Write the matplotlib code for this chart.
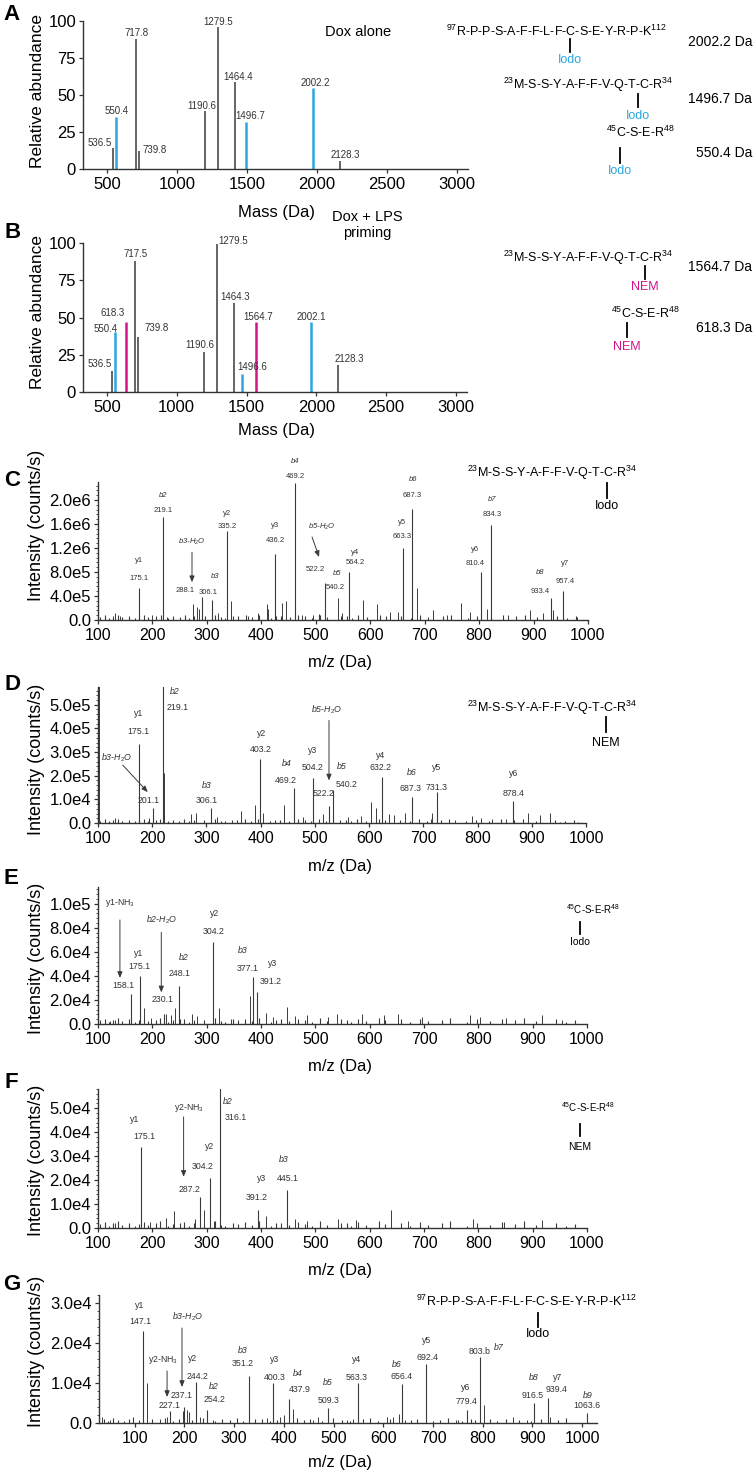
import matplotlib
matplotlib.use("Agg")
import matplotlib.pyplot as plt
from matplotlib.lines import Line2D
from matplotlib.ticker import MultipleLocator
from matplotlib.transforms import offset_copy

plt.rcParams['font.family'] = ['Liberation Sans', 'DejaVu Sans']
plt.rcParams['mathtext.fontset'] = 'custom'
plt.rcParams['mathtext.rm'] = 'Liberation Sans'
plt.rcParams['mathtext.it'] = 'Liberation Sans:italic'

W, H = 754, 1479
BLUE = '#2aa7df'
MAGENTA = '#d4148c'
PEAK = '#3a3a3a'
AXIS = '#333333'
LABEL = '#333333'

# ---- panel A: Dox alone (mass, relative abundance)
a_mass = [543, 564, 707, 729, 1200, 1293, 1414, 1493, 1971, 2164]
a_abund = [14, 35, 88, 12, 39, 96, 59, 32, 55, 5.5]
a_text = ["536.5", "550.4", "717.8", "739.8", "1190.6", "1279.5", "1464.4", "1496.7", "2002.2", "2128.3"]
a_tag = ["", "iodo", "", "", "", "", "", "iodo", "iodo", ""]

# ---- panel B: Dox + LPS priming
b_mass = [536, 557, 636, 700, 721, 1193, 1286, 1407, 1471, 1571, 1964, 2157]
b_abund = [14, 40, 47, 88, 37, 27, 99, 60, 12, 47, 47, 18]
b_text = ["536.5", "550.4", "618.3", "717.5", "739.8", "1190.6", "1279.5", "1464.3", "1496.6", "1564.7", "2002.1", "2128.3"]
b_tag = ["", "iodo", "nem", "", "", "", "", "", "iodo", "nem", "iodo", ""]

mass_ticks = [500, 1000, 1500, 2000, 2500, 3000]
abund_ticks = [0, 25, 50, 75, 100]

# ---- panel C (x1e5 counts/s)
c_mz = [175.3, 219.4, 291, 309, 337, 425, 462, 506, 517, 561, 660, 677, 803.6, 822, 932, 954]
c_int = [5.3, 17.2, 3.8, 3.4, 14.8, 11.0, 22.8, 1.0, 6.2, 8.0, 12.0, 18.5, 8.0, 15.8, 3.7, 4.8]
c_ion = ["y1", "b2", "b3-H2O", "b3", "y2", "y3", "b4", "b5-H2O", "b5", "y4", "y5", "b6", "y6", "b7", "b8", "y7"]
c_lab = ["175.1", "219.1", "288.1", "306.1", "335.2", "436.2", "469.2", "522.2", "540.2", "564.2",
         "663.3", "687.3", "810.4", "834.3", "933.4", "957.4"]
c_minor_mz = [131, 140, 199, 227, 275, 282, 285, 320, 344, 376, 394, 410, 413, 438, 445, 474, 495,
              541, 548, 587, 612, 636, 651, 686, 716, 741, 767, 783, 814, 853, 893, 917, 936, 980]
c_minor_int = [1.1, 0.67, 0.83, 0.55, 2.7, 2.2, 1.8, 1.1, 3.1, 0.67, 1.1, 2.7, 1.8, 2.9, 3.1, 0.83, 0.83,
               3.6, 1.1, 3.4, 2.7, 1.4, 1.4, 5.3, 1.7, 0.8, 2.9, 1.4, 1.9, 0.8, 1.7, 1.2, 1.7, 0.55]
c_yticks = [0, 4, 8, 12, 16, 20]
c_ytlab = ["0.0", "4.0e5", "8.0e5", "1.2e6", "1.6e6", "2.0e6"]

# ---- panel D (x1e5)
d_mz = [175, 201, 219, 309, 399, 462, 497, 526, 533, 623.5, 679, 724.5, 866]
d_int = [3.33, 0.63, 6.0, 0.63, 2.7, 1.5, 1.9, 0.7, 1.4, 1.96, 1.1, 1.3, 0.92]
d_ion = ["y1", "b3-H2O", "b2", "b3", "y2", "b4", "y3", "b5-H2O", "b5", "y4", "b6", "y5", "y6"]
d_lab = ["175.1", "201.1", "219.1", "306.1", "403.2", "469.2", "504.2", "522.2", "540.2", "632.2",
         "687.3", "731.3", "878.4"]
d_minor_mz = [101, 221, 131, 194, 272, 281, 320, 364, 390, 405, 443, 478, 515, 561, 585, 603, 612,
              636, 646, 667, 714, 716, 759, 789, 807, 826, 853, 893, 915, 934, 952, 985]
d_minor_int = [6.0, 2.1, 0.22, 0.2, 0.36, 0.43, 0.25, 0.5, 0.74, 0.42, 0.78, 0.25, 0.36, 0.25, 0.28,
               0.88, 0.63, 0.36, 0.35, 0.42, 0.18, 0.42, 0.14, 0.28, 0.22, 0.18, 0.18, 0.42, 0.32,
               0.42, 0.05, 0.05]
d_yticks = [0, 1, 2, 3, 4, 5]
d_ytlab = ["0.0", "1.0e4", "2.0e5", "3.0e5", "4.0e5", "5.0e5"]

# ---- panel E (x1e4)
e_mz = [160.6, 177, 222, 249, 311, 385, 392]
e_int = [2.5, 4.0, 0.8, 3.2, 6.8, 3.9, 2.7]
e_ion = ["y1-NH3", "y1", "b2-H2O", "b2", "y2", "b3", "y3"]
e_lab = ["158.1", "175.1", "230.1", "248.1", "304.2", "377.1", "391.2"]
e_minor_mz = [122, 131, 185, 198, 225, 234, 241, 273, 282, 322, 344, 380, 409, 423, 447, 463, 485,
              524, 539, 585, 627, 653, 697, 785, 803, 851, 918, 954]
e_minor_int = [0.28, 0.33, 1.3, 0.47, 0.83, 0.75, 1.36, 0.83, 0.67, 1.36, 0.39, 2.3, 0.89, 0.61, 1.45,
               0.67, 0.75, 0.61, 0.8, 0.8, 0.75, 0.83, 0.61, 0.75, 0.61, 0.47, 0.75, 0.33]
e_yticks = [0, 2, 4, 6, 8, 10]
e_ytlab = ["0.0", "2.0e4", "4.0e4", "6.0e4", "8.0e4", "1.0e5"]

# ---- panel F (x1e4)
f_mz = [179, 287, 306, 324, 394, 447]
f_int = [3.4, 1.3, 2.1, 6.0, 0.75, 1.6]
f_ion = ["y1", "y2-NH3", "y2", "b2", "y3", "b3"]
f_lab = ["175.1", "287.2", "304.2", "316.1", "391.2", "445.1"]
f_minor_mz = [132, 196, 225, 240, 278, 295, 313, 410, 463, 485, 542, 574, 640, 671, 790, 848, 918]
f_minor_int = [0.2, 0.24, 0.42, 0.7, 0.38, 0.74, 0.28, 0.49, 0.38, 0.28, 0.38, 0.32, 0.74, 0.28, 0.38,
               0.24, 0.35]
f_yticks = [0, 1, 2, 3, 4, 5]
f_ytlab = ["0.0", "1.0e4", "2.0e4", "3.0e4", "4.0e4", "5.0e4"]

# ---- panel G (x1e4)
g_mz = [116.6, 171, 199, 223, 245, 330, 378, 410, 489, 549, 637, 686, 768, 794, 903, 931, 1009]
g_int = [2.3, 0.3, 0.4, 1.03, 0.33, 1.18, 1.0, 0.6, 0.38, 1.0, 0.98, 1.48, 0.33, 1.65, 0.5, 0.62, 0.25]
g_ion = ["y1", "y2-NH3", "b3-H2O", "y2", "b2", "b3", "y3", "b4", "b5", "y4", "b6", "y5", "y6", "b7",
         "b8", "y7", "b9"]
g_lab = ["147.1", "227.1", "237.1", "244.2", "254.2", "351.2", "400.3", "437.9", "509.3", "563.3",
         "656.4", "692.4", "779.4", "803.b", "916.5", "939.4", "1063.6"]
g_minor_mz = [34, 50, 124.7, 151, 165, 197, 205, 210, 231, 257, 366, 392, 400, 418, 459, 469, 527, 539,
              607, 620, 631, 643, 746, 750, 802, 861, 889, 935]
g_minor_int = [0.15, 0.08, 1.0, 0.1, 0.15, 0.3, 0.32, 0.27, 0.15, 0.08, 0.13, 0.15, 0.19, 0.35, 0.08,
               0.15, 0.08, 0.1, 0.15, 0.15, 0.22, 0.08, 0.08, 0.08, 0.45, 0.15, 0.08, 0.15]
g_yticks = [0, 1, 2, 3]
g_ytlab = ["0.0", "1.0e4", "2.0e4", "3.0e4"]

mz_ticks = [100, 200, 300, 400, 500, 600, 700, 800, 900, 1000]

# baseline noise (C-F share positions, G its own)
ms_base_mz = [103, 112, 121, 127, 136, 144, 157, 168, 176, 184,
              192, 207, 215, 229, 238, 250, 259, 268, 277, 296,
              315, 326, 334, 348, 357, 371, 383, 396, 418, 427,
              436, 452, 468, 481, 493, 508, 521, 547, 558, 566,
              578, 594, 618, 629, 657, 675, 692, 707, 733, 748,
              779, 797, 822, 843, 868, 884, 907, 943, 962, 978]
c_base_int = [0.5, 0.8, 0.4, 0.6, 0.9, 0.5, 0.7, 0.4, 0.6, 0.8,
              0.5, 0.7, 0.9, 0.4, 0.6, 0.5, 0.8, 0.4, 0.7, 0.6,
              0.9, 0.5, 0.4, 0.7, 0.6, 0.8, 0.5, 0.9, 0.4, 0.6,
              0.7, 0.5, 0.8, 0.6, 0.4, 0.9, 0.5, 0.7, 0.6, 0.4,
              0.8, 0.5, 0.9, 0.6, 0.7, 0.4, 0.8, 0.5, 0.6, 0.9,
              0.4, 0.7, 0.5, 0.8, 0.6, 0.9, 0.5, 0.7, 0.4, 0.6]
d_base_int = [0.1, 0.15, 0.08, 0.12, 0.18, 0.1, 0.14, 0.07, 0.12, 0.16,
              0.09, 0.13, 0.17, 0.08, 0.12, 0.1, 0.15, 0.07, 0.13, 0.11,
              0.17, 0.09, 0.08, 0.14, 0.11, 0.16, 0.1, 0.18, 0.07, 0.12,
              0.13, 0.09, 0.15, 0.11, 0.08, 0.17, 0.1, 0.14, 0.12, 0.07,
              0.15, 0.09, 0.18, 0.11, 0.13, 0.08, 0.16, 0.1, 0.12, 0.17,
              0.08, 0.14, 0.1, 0.15, 0.12, 0.18, 0.09, 0.13, 0.07, 0.11]
e_base_int = [0.3, 0.45, 0.2, 0.35, 0.5, 0.25, 0.4, 0.2, 0.3, 0.45,
              0.25, 0.35, 0.5, 0.2, 0.3, 0.4, 0.45, 0.2, 0.35, 0.3,
              0.5, 0.25, 0.2, 0.4, 0.3, 0.45, 0.25, 0.5, 0.2, 0.35,
              0.4, 0.25, 0.45, 0.3, 0.2, 0.5, 0.25, 0.4, 0.35, 0.2,
              0.45, 0.25, 0.5, 0.3, 0.4, 0.2, 0.45, 0.25, 0.35, 0.5,
              0.2, 0.4, 0.25, 0.45, 0.3, 0.5, 0.25, 0.4, 0.2, 0.3]
f_base_int = [0.15, 0.25, 0.1, 0.2, 0.3, 0.12, 0.22, 0.1, 0.18, 0.26,
              0.12, 0.2, 0.3, 0.1, 0.16, 0.22, 0.26, 0.1, 0.2, 0.15,
              0.3, 0.12, 0.1, 0.22, 0.16, 0.26, 0.12, 0.3, 0.1, 0.2,
              0.22, 0.12, 0.26, 0.16, 0.1, 0.3, 0.12, 0.22, 0.2, 0.1,
              0.26, 0.12, 0.3, 0.16, 0.22, 0.1, 0.26, 0.12, 0.2, 0.3,
              0.1, 0.22, 0.12, 0.26, 0.16, 0.3, 0.12, 0.22, 0.1, 0.15]
g_base_mz = [38, 46, 57, 66, 78, 88, 97, 108, 134, 160,
             176, 188, 216, 238, 262, 276, 291, 305, 318, 342,
             355, 372, 386, 426, 441, 452, 476, 498, 517, 533,
             560, 574, 590, 613, 655, 668, 701, 715, 731, 759,
             776, 785, 815, 829, 846, 874, 897, 918, 952, 968]
g_base_int = [0.1, 0.06, 0.12, 0.08, 0.05, 0.1, 0.14, 0.07, 0.09, 0.12,
              0.06, 0.11, 0.08, 0.13, 0.05, 0.1, 0.07, 0.12, 0.06, 0.09,
              0.11, 0.05, 0.08, 0.12, 0.07, 0.1, 0.06, 0.13, 0.08, 0.05,
              0.09, 0.12, 0.06, 0.1, 0.07, 0.11, 0.05, 0.08, 0.12, 0.06,
              0.1, 0.07, 0.09, 0.05, 0.11, 0.08, 0.06, 0.1, 0.07, 0.12]

# label layout: pixel offsets from the peak top (ion dx, dy, m/z dx, dy, arrow start/end)
a_off = [(-13, 5), (1, 6), (1, 6), (16, 1), (-3, 5), (0, 5), (3, 5), (4, 6), (2, 5), (5, 6)]
b_off = [(-12, 7), (-9, 3), (-13, 9), (1, 7), (19, 9), (-4, 7), (16, 3), (2, 6), (10, 7), (2, 5), (0, 5), (11, 6)]
c_lay = [(0, 28, 0, 10, None), (0, 21, 0, 6, None), (-10, 55, -17, 7, (-10, 45, -10, 15)),
         (3, 23, -4, 7, None), (0, 18, 0, 5, None), (0, 29, 0, 14, None), (0, 22, 0, 7, None),
         (3, 87, -4, 45, (-7, 77, 0, 57)), (12, 9, 10, -5, None), (6, 20, 6, 10, None),
         (-1, 26, -1, 12, None), (1, 30, 0, 14, None), (-6, 23, -6, 9, None), (1, 26, 1, 11, None),
         (-11, 25, -11, 6, None), (2, 28, 2, 10, None)]
d_lay = [(0, 31, 0, 13, None), (-36, 50, -4, 8, (-30, 43, -5, 16)), (12, -5, 15, -20, None),
         (-5, 23, -5, 8, None), (1, 26, 1, 10, None), (-8, 24, -8, 7, None), (-1, 28, -1, 11, None),
         (-2, 97, -5, 13, (0, 86, 0, 26)), (9, 23, 14, 5, None), (-1, 21, -1, 9, None),
         (0, 24, -1, 8, None), (0, 25, 0, 5, None), (0, 28, 0, 8, None)]
e_lay = [(-11, 91, -8, 8, (-11, 74, -11, 16)), (-1, 22, 0, 9, None), (-3, 95, -2, 15, (-3, 82, -3, 22)),
         (5, 28, 1, 12, None), (2, 29, 1, 11, None), (-10, 27, -5, 9, None), (16, 28, 14, 10, None)]
f_lay = [(-6, 27, 3, 10, None), (-11, 89, -10, 7, (-16, 80, -16, 20)), (0, 31, -7, 11, None),
         (8, -12, 16, -28, None), (4, 32, -1, 13, None), (-3, 30, 1, 11, None)]
g_lay = [(-3, 26, -3, 9, None), (-7, 51, 0, 5, (-3, 40, -3, 14)), (4, 90, -2, 12, (-2, 79, -2, 20)),
         (-3, 23, 2, 5, None), (7, 23, 8, 10, None), (-6, 25, -6, 12, None), (2, 24, 2, 6, None),
         (9, 26, 11, 10, None), (0, 25, 0, 7, None), (-1, 23, -1, 5, None), (-5, 19, 0, 7, None),
         (1, 23, 1, 6, None), (-1, 22, 0, 8, None), (19, 10, 0, 5, None), (0, 26, -1, 7, None),
         (10, 21, 9, 9, None), (1, 18, 0, 7, None)]

fig = plt.figure(figsize=(W / 100, H / 100), dpi=100)


def fx(x):
    return x / W


def fy(y):
    return 1 - y / H


def add_ax(l, t, r, b):
    return fig.add_axes([fx(l), fy(b), (r - l) / W, (b - t) / H])


def style_axes(ax, xfs, yfs):
    for s in ("top", "right"):
        ax.spines[s].set_visible(False)
    for s in ("left", "bottom"):
        ax.spines[s].set_linewidth(1.0)
        ax.spines[s].set_color(AXIS)
    ax.tick_params(direction="out", length=3, width=0.9, colors=AXIS, labelcolor="black", pad=2)
    ax.tick_params(axis="x", labelsize=xfs, pad=3)
    ax.tick_params(axis="y", labelsize=yfs)


def place_labels(ax, xl, yl, xpos, ypos, xfs, yfs):
    ax.set_xlabel(xl, fontsize=xfs)
    ax.set_ylabel(yl, fontsize=yfs)
    ax.xaxis.set_label_coords(fx(xpos[0]), fy(xpos[1]), transform=fig.transFigure)
    ax.yaxis.set_label_coords(fx(ypos[0]), fy(ypos[1]), transform=fig.transFigure)
    ax.xaxis.label.set_va("center")
    ax.yaxis.label.set_va("center")


def ion_text(s):
    return s.replace("H2O", "H$_2$O").replace("NH3", "NH$_3$")


def draw_mass(ax, mass, abund, text, tag, off):
    colors = [BLUE if t == "iodo" else MAGENTA if t == "nem" else PEAK for t in tag]
    widths = [1.1 if t == "" else 1.8 for t in tag]
    ax.vlines(mass, 0, abund, colors=colors, linewidths=widths)
    for m, h, t, (dx, dy) in zip(mass, abund, text, off):
        ax.annotate(t, xy=(m, h), xytext=(dx, dy), textcoords="offset pixels", ha="center",
                    va="center", fontsize=7, color=LABEL)
    ax.set_xlim(329, 3079)
    ax.set_ylim(0, 100)
    ax.set_xticks(mass_ticks)
    ax.set_yticks(abund_ticks)
    style_axes(ax, 12, 12)


def draw_ms(ax, mz, inten, ions, labs, lay, minor_mz, minor_int, base_mz, base_int,
            unit, ymax, xlim, yticks, ytlab, fs):
    ax.set_xlim(*xlim)
    ax.set_ylim(0, ymax)
    ax.vlines(base_mz, 0, [v * unit for v in base_int], colors=PEAK, linewidths=0.8)
    ax.vlines(minor_mz, 0, [v * unit for v in minor_int], colors=PEAK, linewidths=0.7)
    ax.vlines(mz, 0, [v * unit for v in inten], colors=PEAK, linewidths=0.8)
    for m, h, ion, lab, (idx, idy, ldx, ldy, arr) in zip(mz, inten, ions, labs, lay):
        top = min(h * unit, ymax)
        style = "italic" if ion.startswith("b") else "normal"
        ax.annotate(ion_text(ion), xy=(m, top), xytext=(idx, idy), textcoords="offset pixels",
                    ha="center", va="center", fontsize=fs, color=LABEL, style=style,
                    annotation_clip=False)
        ax.annotate(lab, xy=(m, top), xytext=(ldx, ldy), textcoords="offset pixels",
                    ha="center", va="center", fontsize=fs, color=LABEL, annotation_clip=False)
        if arr is not None:
            sx, sy, ex, ey = arr
            ax.annotate("", xy=(m, top), xycoords=offset_copy(ax.transData, fig, ex, ey, units="dots"),
                        xytext=(m, top), textcoords=offset_copy(ax.transData, fig, sx, sy, units="dots"),
                        arrowprops=dict(arrowstyle="-|>,head_length=0.6,head_width=0.25", lw=0.7,
                                        color=PEAK, shrinkA=0, shrinkB=0, mutation_scale=6),
                        annotation_clip=False)
    ax.set_xticks(mz_ticks)
    ax.set_yticks([v * unit for v in yticks])
    ax.set_yticklabels(ytlab)
    ax.yaxis.set_minor_locator(MultipleLocator((yticks[1] - yticks[0]) * unit / 5))
    style_axes(ax, 11.5, 12)
    ax.tick_params(axis="y", which="minor", direction="out", length=1.5, width=0.6, colors=AXIS)


def seq(x_right, y_base, s, fs):
    fig.text(fx(x_right), fy(y_base), s, ha="right", va="baseline", fontsize=fs, color="black")


def tag_line(x, y1, y2, txt, ty, color, fs):
    fig.add_artist(Line2D([fx(x), fx(x)], [fy(y1), fy(y2)], color="black", lw=1.3))
    fig.text(fx(x), fy(ty), txt, ha="center", va="center", fontsize=fs, color=color)


def da(y, s):
    fig.text(fx(752), fy(y), s, ha="right", va="center", fontsize=10)


SEQ_R = "$^{97}$R-P-P-S-A-F-F-L-F-C-S-E-Y-R-P-K$^{112}$"
SEQ_M = "$^{23}$M-S-S-Y-A-F-F-V-Q-T-C-R$^{34}$"
SEQ_C = "$^{45}$C-S-E-R$^{48}$"

# ---- A
axA = add_ax(83, 21, 468, 169)
draw_mass(axA, a_mass, a_abund, a_text, a_tag, a_off)
place_labels(axA, "Mass (Da)", "Relative abundance", (276, 213), (38, 91), 12, 12.5)
axA.text(0.629, 0.926, "Dox alone", transform=axA.transAxes, ha="left", va="center", fontsize=10.5)
seq(667, 36, SEQ_R, 9)
tag_line(570, 39, 52, "Iodo", 60, BLUE, 9)
da(42, "2002.2 Da")
seq(673, 89, SEQ_M, 9)
tag_line(638, 94, 107, "Iodo", 116, BLUE, 9)
da(99, "1496.7 Da")
seq(675, 137, SEQ_C, 9)
tag_line(620, 148, 163, "Iodo", 171, BLUE, 9)
da(153, "550.4 Da")

# ---- B
axB = add_ax(83, 243, 467, 392)
draw_mass(axB, b_mass, b_abund, b_text, b_tag, b_off)
place_labels(axB, "Mass (Da)", "Relative abundance", (276, 430), (38, 312), 12, 12.5)
axB.text(0.74, 1.12, "Dox + LPS\npriming", transform=axB.transAxes, ha="center", va="center",
         fontsize=10.5, linespacing=1.15)
seq(673, 262, SEQ_M, 9)
tag_line(645, 266, 279, "NEM", 287, MAGENTA, 9)
da(267, "1564.7 Da")
seq(680, 318, SEQ_C, 9)
tag_line(627, 323, 337, "NEM", 347, MAGENTA, 9)
da(328, "618.3 Da")

# ---- C to G
axC = add_ax(98, 482, 588, 620)
draw_ms(axC, c_mz, c_int, c_ion, c_lab, c_lay, c_minor_mz, c_minor_int, ms_base_mz, c_base_int,
        1e5, 2.3e6, (100, 1000), c_yticks, c_ytlab, 5.5)
place_labels(axC, "m/z (Da)", "Intensity (counts/s)", (340, 662), (37, 525), 12, 13)
seq(637, 477, SEQ_M, 9)
tag_line(607, 483, 498, "Iodo", 506, "black", 9)

axD = add_ax(98, 687, 586, 823)
draw_ms(axD, d_mz, d_int, d_ion, d_lab, d_lay, d_minor_mz, d_minor_int, ms_base_mz, d_base_int,
        1e5, 5.75e5, (100, 1000), d_yticks, d_ytlab, 6.3)
place_labels(axD, "m/z (Da)", "Intensity (counts/s)", (340, 867), (37, 759), 12, 13)
seq(637, 712, SEQ_M, 9)
tag_line(606, 717, 732, "NEM", 743, "black", 9)

axE = add_ax(98, 887, 587, 1024)
draw_ms(axE, e_mz, e_int, e_ion, e_lab, e_lay, e_minor_mz, e_minor_int, ms_base_mz, e_base_int,
        1e4, 1.14e5, (100, 1000), e_yticks, e_ytlab, 6.3)
place_labels(axE, "m/z (Da)", "Intensity (counts/s)", (340, 1067), (37, 958), 12, 13)
seq(620, 914, SEQ_C, 7)
tag_line(580, 922, 934, "Iodo", 942, "black", 7.5)

axF = add_ax(98, 1089, 587, 1228)
draw_ms(axF, f_mz, f_int, f_ion, f_lab, f_lay, f_minor_mz, f_minor_int, ms_base_mz, f_base_int,
        1e4, 5.8e4, (100, 1000), f_yticks, f_ytlab, 6.3)
place_labels(axF, "m/z (Da)", "Intensity (counts/s)", (340, 1270), (37, 1160), 12, 13)
seq(615, 1112, SEQ_C, 7)
tag_line(580, 1124, 1136, "NEM", 1147, "black", 7.5)

axG = add_ax(99, 1295, 597, 1423)
draw_ms(axG, g_mz, g_int, g_ion, g_lab, g_lay, g_minor_mz, g_minor_int, g_base_mz, g_base_int,
        1e4, 3.2e4, (28, 1030), g_yticks, g_ytlab, 6.3)
place_labels(axG, "m/z (Da)", "Intensity (counts/s)", (340, 1463), (37, 1351), 12, 13)
seq(637, 1306, SEQ_R, 9)
tag_line(538, 1313, 1327, "Iodo", 1334, "black", 9)

# panel letters
for letter, x, y in [("A", 12, 14), ("B", 13, 233), ("C", 12, 480), ("D", 12, 685),
                     ("E", 11, 879), ("F", 11, 1083), ("G", 12, 1285)]:
    fig.text(fx(x), fy(y), letter, ha="center", va="center", fontsize=16, fontweight="bold")

fig.savefig("out.png", dpi=100)
